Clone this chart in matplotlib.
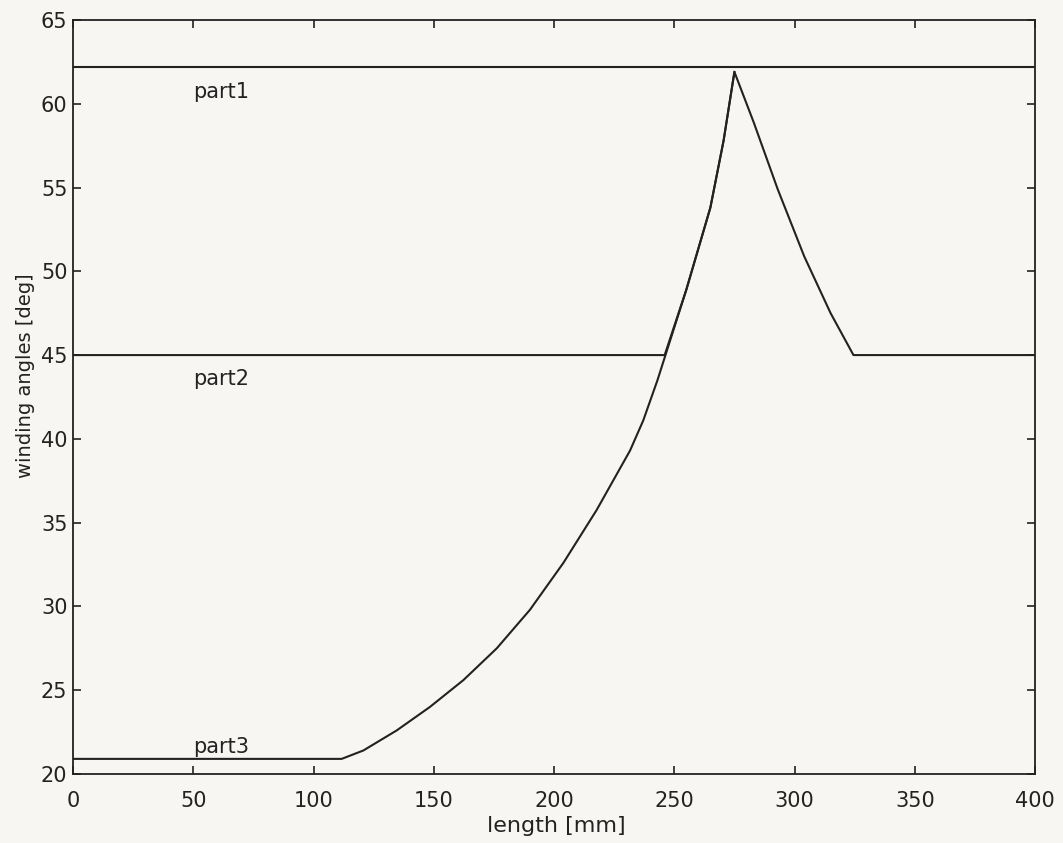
import matplotlib.pyplot as plt

# winding angle data
part1_x = [0, 400]
part1_y = [62.2, 62.2]

part2_x = [0, 246, 255, 265, 270.5, 275, 283, 293, 304, 315, 324.5, 400]
part2_y = [45, 45, 48.9, 53.8, 57.8, 61.9, 58.9, 54.9, 50.9, 47.5, 45, 45]

part3_x = [0, 111.7, 120.7, 134.6, 148.4, 162.3, 176.2, 190, 203.9, 217.7,
           231.6, 237.1, 243, 255, 265, 270.5, 275]
part3_y = [20.9, 20.9, 21.4, 22.6, 24.0, 25.6, 27.5, 29.8, 32.6, 35.75,
           39.3, 41.1, 43.5, 48.9, 53.8, 57.8, 61.9]

labels = ['part1', 'part2', 'part3']
label_x = [50, 50, 50]
label_y = [60.7, 43.6, 21.6]

xticks = [0, 50, 100, 150, 200, 250, 300, 350, 400]
yticks = [20, 25, 30, 35, 40, 45, 50, 55, 60, 65]

plt.rcParams['font.family'] = ['DejaVu Sans']
bg = '#f8f6f2'
ink = '#222222'

fig = plt.figure(figsize=(10.63, 8.43), dpi=100, facecolor=bg)
ax = fig.add_axes([0.0687, 0.0819, 0.905, 0.8944], facecolor=bg)

for xs, ys in [(part1_x, part1_y), (part2_x, part2_y), (part3_x, part3_y)]:
    ax.plot(xs, ys, color=ink, lw=1.5, solid_joinstyle='round')

for t, x, y in zip(labels, label_x, label_y):
    ax.text(x, y, t, fontsize=15, color=ink, ha='left', va='center')

ax.set_xlim(0, 400)
ax.set_ylim(20, 65)
ax.set_xticks(xticks)
ax.set_yticks(yticks)
ax.tick_params(direction='in', top=True, right=True, length=6, width=1.2,
               labelsize=15, colors=ink)
ax.tick_params(axis='x', pad=12)
ax.tick_params(axis='y', pad=4)
for s in ax.spines.values():
    s.set_linewidth(1.3)
    s.set_color(ink)

ax.set_xlabel('length [mm]', fontsize=16, color=ink)
ax.xaxis.set_label_coords(0.502, -0.056)
ax.set_ylabel('winding angles [deg]', fontsize=14, color=ink)
ax.yaxis.set_label_coords(-0.04, 0.528)

fig.savefig('out.png', dpi=100, facecolor=bg)
